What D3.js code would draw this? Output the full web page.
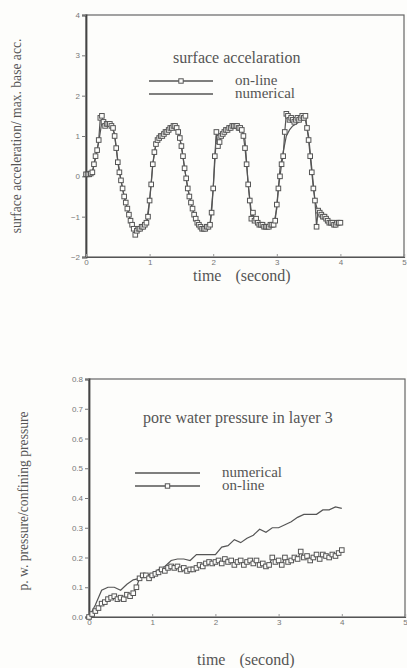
<!DOCTYPE html>
<html>
<head>
<meta charset="utf-8">
<script src="https://cdn.jsdelivr.net/npm/d3@7"></script>
<style>
  body { margin: 0; background: #fdfdfb; }
  svg { display: block; }
  .tick text { font-family: "Liberation Sans", Arial, sans-serif; font-size: 8px; fill: #777; }
  .lbl { font-family: "Liberation Serif", "Times New Roman", serif; fill: #555; }
</style>
</head>
<body>
<svg width="407" height="668"></svg>
<script>
// top chart: surface acceleration (time step 0.025 s for on-line, 0.05 s for numerical)
const accOnline = [
  0.05, 0.05, 0.05, 0.07, 0.1, 0.3, 0.5, 0.65, 0.9, 1.45, 1.5, 1.35, 1.25, 1.3, 1.3, 1.3, 1.25, 1.2, 1.0, 0.7,
  0.35, 0.1, -0.1, -0.3, -0.5, -0.65, -0.8, -0.95, -1.1, -1.2, -1.3, -1.45, -1.35, -1.3, -1.3, -1.25, -1.25, -1.2, -1.15, -1.0,
  -0.6, -0.2, 0.3, 0.6, 0.8, 0.9, 0.95, 1.0, 1.0, 1.05, 1.1, 1.1, 1.15, 1.2, 1.2, 1.25, 1.25, 1.2, 1.1, 0.95,
  0.75, 0.5, 0.2, -0.05, -0.3, -0.5, -0.65, -0.8, -0.95, -1.05, -1.15, -1.2, -1.25, -1.3, -1.3, -1.3, -1.25, -1.25, -1.2, -0.9,
  -0.3, 0.5, 1.1, 0.75, 0.85, 1.0, 1.05, 1.1, 1.15, 1.15, 1.2, 1.2, 1.25, 1.25, 1.25, 1.25, 1.2, 1.2, 1.15, 1.0,
  0.7, 0.3, -0.2, -0.6, -1.05, -0.9, -1.1, -1.05, -1.15, -1.2, -1.2, -1.2, -1.25, -1.25, -1.25, -1.25, -1.2, -1.2, -1.2, -1.1,
  -0.7, -0.3, 0.0, 0.3, 0.5, 1.1, 1.55, 1.5, 1.4, 1.45, 1.4, 1.35, 1.4, 1.45, 1.4, 1.45, 1.5, 1.45, 1.5, 1.2,
  0.9, 0.5, 0.1, -0.3, -0.6, -1.25, -0.85, -0.9, -0.95, -1.0, -1.0, -1.05, -1.1, -1.15, -1.15, -1.15, -1.2, -1.2, -1.15, -1.15,
  -1.15
];
const accNumerical = [
  0.05, 0.05, 0.1, 0.45, 0.85, 1.35, 1.25, 1.3, 1.25, 1.05,
  0.4, -0.1, -0.5, -0.8, -1.1, -1.3, -1.35, -1.3, -1.25, -1.15,
  -0.6, 0.3, 0.8, 0.95, 1.0, 1.1, 1.15, 1.2, 1.25, 1.1,
  0.75, 0.2, -0.3, -0.65, -0.95, -1.15, -1.25, -1.3, -1.25, -1.2,
  -0.3, 1.0, 1.05, 1.1, 1.15, 1.2, 1.25, 1.25, 1.25, 1.2,
  0.9, -0.2, -0.9, -1.05, -1.15, -1.2, -1.25, -1.25, -1.2, -1.2,
  -0.8, 0.2, 0.6, 1.0, 1.15, 1.25, 1.3, 1.35, 1.4, 1.4,
  1.0, 0.2, -0.6, -0.9, -0.95, -1.0, -1.1, -1.15, -1.2, -1.15,
  -1.1
];

// bottom chart: pore water pressure (numerical every 0.1 s, on-line every 0.05 s)
const pwpNumerical = [
  0.0, 0.04, 0.09, 0.1, 0.1, 0.09, 0.11, 0.125, 0.13, 0.14,
  0.145, 0.16, 0.17, 0.19, 0.195, 0.195, 0.19, 0.21, 0.21, 0.21,
  0.21, 0.235, 0.24, 0.26, 0.25, 0.265, 0.275, 0.295, 0.285, 0.3,
  0.3, 0.31, 0.32, 0.335, 0.345, 0.345, 0.345, 0.36, 0.36, 0.37,
  0.365
];
const pwpOnline = [
  0.0, 0.01, 0.02, 0.03, 0.045, 0.05, 0.06, 0.065, 0.07, 0.06,
  0.065, 0.06, 0.075, 0.07, 0.08, 0.1, 0.13, 0.14, 0.14, 0.13,
  0.14, 0.145, 0.15, 0.16, 0.155, 0.165, 0.17, 0.165, 0.17, 0.16,
  0.165, 0.155, 0.16, 0.16, 0.165, 0.175, 0.17, 0.18, 0.185, 0.18,
  0.185, 0.19, 0.18, 0.195, 0.185, 0.19, 0.175, 0.185, 0.19, 0.175,
  0.185, 0.19, 0.18, 0.19, 0.175, 0.18, 0.17, 0.175, 0.2, 0.185,
  0.19, 0.175, 0.2, 0.185, 0.19, 0.2, 0.195, 0.22, 0.2, 0.205,
  0.19, 0.2, 0.21, 0.195, 0.21, 0.205, 0.2, 0.21, 0.205, 0.215,
  0.225
];

const xTicks = [0, 1, 2, 3, 4, 5];
const accTicks = [-2, -1, 0, 1, 2, 3, 4];
const pwpTicks = [0, 0.1, 0.2, 0.3, 0.4, 0.5, 0.6, 0.7, 0.8];

const svg = d3.select("svg");
const ink = "#555";

function drawPanel(cfg) {
  const g = svg.append("g");
  const x = d3.scaleLinear().domain([0, 5]).range([cfg.left, cfg.right]);
  const y = d3.scaleLinear().domain(cfg.yDomain).range([cfg.bottom, cfg.top]);

  // frame
  g.append("rect").attr("x", cfg.left).attr("y", cfg.top)
    .attr("width", cfg.right - cfg.left).attr("height", cfg.bottom - cfg.top)
    .attr("fill", "none").attr("stroke", "#666").attr("stroke-width", 1.2);

  const yAxis = g.append("g").attr("transform", `translate(${cfg.left},0)`)
    .call(d3.axisLeft(y).tickValues(cfg.yTicks).tickSize(4).tickPadding(2).tickFormat(cfg.yFmt));
  yAxis.select(".domain").attr("stroke", "#444").attr("stroke-width", 1.8);
  yAxis.selectAll(".tick line").attr("stroke", "#777");

  const xAxis = g.append("g").attr("transform", `translate(0,${cfg.bottom})`)
    .call(d3.axisBottom(x).tickValues(xTicks).tickSize(-3).tickPadding(2).tickFormat(d3.format("d")));
  xAxis.select(".domain").attr("stroke", "#555").attr("stroke-width", 1.2);
  xAxis.selectAll(".tick line").attr("stroke", "#999");

  // series
  cfg.series.forEach(s => {
    const pts = s.values.map((v, i) => [i * s.step, v]);
    g.append("path").datum(pts)
      .attr("fill", "none").attr("stroke", ink).attr("stroke-width", 1.2)
      .attr("d", d3.line().x(d => x(d[0])).y(d => y(d[1])));
    if (s.marker) {
      g.selectAll(null).data(pts).enter().append("rect")
        .attr("x", d => x(d[0]) - 2.3).attr("y", d => y(d[1]) - 2.3)
        .attr("width", 4.6).attr("height", 4.6)
        .attr("fill", "#fdfdfb").attr("stroke", ink).attr("stroke-width", 1);
    }
  });

  // title and legend
  g.append("text").attr("class", "lbl").attr("x", cfg.titlePos[0]).attr("y", cfg.titlePos[1])
    .attr("font-size", 16).text(cfg.title);
  cfg.legend.forEach((l, i) => {
    const ly = cfg.legendY + i * 13;
    g.append("line").attr("x1", cfg.legendX[0]).attr("x2", cfg.legendX[1])
      .attr("y1", ly).attr("y2", ly).attr("stroke", ink).attr("stroke-width", 1.3);
    if (l.marker) {
      const mx = (cfg.legendX[0] + cfg.legendX[1]) / 2;
      g.append("rect").attr("x", mx - 2.2).attr("y", ly - 2.2).attr("width", 4.4).attr("height", 4.4)
        .attr("fill", "#fdfdfb").attr("stroke", ink).attr("stroke-width", 1);
    }
    g.append("text").attr("class", "lbl").attr("x", cfg.legendX[1] + 22).attr("y", ly + 4)
      .attr("font-size", 15).text(l.name);
  });

  // axis titles
  const xt = g.append("text").attr("class", "lbl").attr("font-size", 16)
    .attr("x", cfg.xTitlePos[0]).attr("y", cfg.xTitlePos[1]);
  xt.append("tspan").text("time");
  xt.append("tspan").attr("dx", 14).text("(second)");
  g.append("text").attr("class", "lbl").attr("font-size", 13.6).attr("text-anchor", "middle")
    .attr("transform", `translate(${cfg.yTitlePos[0]},${cfg.yTitlePos[1]}) rotate(-90)`)
    .text(cfg.yTitle);
}

drawPanel({
  left: 86, right: 404, top: 15, bottom: 257,
  yDomain: [-2, 4], yTicks: accTicks, yFmt: d3.format("d"),
  series: [
    { values: accNumerical, step: 0.05, marker: false },
    { values: accOnline, step: 0.025, marker: true }
  ],
  title: "surface accelaration", titlePos: [173, 63],
  legend: [{ name: "on-line", marker: true }, { name: "numerical", marker: false }],
  legendX: [149, 213], legendY: 81,
  xTitlePos: [193, 281], yTitlePos: [21, 136],
  yTitle: "surface acceleration/ max. base acc."
});

drawPanel({
  left: 89, right: 405, top: 379, bottom: 617,
  yDomain: [0, 0.8], yTicks: pwpTicks, yFmt: d3.format(".1f"),
  series: [
    { values: pwpNumerical, step: 0.1, marker: false },
    { values: pwpOnline, step: 0.05, marker: true }
  ],
  title: "pore water pressure in layer 3", titlePos: [143, 423],
  legend: [{ name: "numerical", marker: false }, { name: "on-line", marker: true }],
  legendX: [135, 200], legendY: 473,
  xTitlePos: [197, 665], yTitlePos: [28, 501],
  yTitle: "p. w. pressure/confining pressure"
});
</script>
</body>
</html>
